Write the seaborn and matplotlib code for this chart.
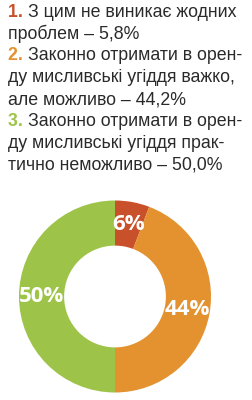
import matplotlib
matplotlib.use("Agg")
import matplotlib.pyplot as plt
import seaborn as sns
import numpy as np

categories = ["З цим не виникає жодних проблем",
              "Законно отримати в оренду мисливські угіддя важко, але можливо",
              "Законно отримати в оренду мисливські угіддя практично неможливо"]
values = [5.8, 44.2, 50.0]
slice_labels = ["6%", "44%", "50%"]
colors = ["#C8502A", "#E3922F", "#9DC449"]

legend_lines = [
    ("1.", ["З цим не виникає жодних", "проблем – 5,8%"]),
    ("2.", ["Законно отримати в орен-", "ду мисливські угіддя важко,", "але можливо – 44,2%"]),
    ("3.", ["Законно отримати в орен-", "ду мисливські угіддя прак-", "тично неможливо – 50,0%"]),
]

sns.set_theme(style="white")
plt.rcParams['font.family'] = ['Liberation Sans', 'DejaVu Sans']

W, H = 252, 400
fig = plt.figure(figsize=(W / 100, H / 100), dpi=100)
fig.patch.set_facecolor("white")

# text block
x0 = 8
base0 = 16.7
step = 21.9
fs = 12.8
txt_color = "#2a2a2a"
k = 0
for (num, lines), col in zip(legend_lines, colors):
    for j, line in enumerate(lines):
        y = 1 - (base0 + step * k) / H
        if j == 0:
            t = fig.text(x0 / W, y, num + " ", color=col, fontsize=fs,
                         fontweight="bold", va="baseline", ha="left")
            fig.canvas.draw()
            bb = t.get_window_extent()
            fig.text(bb.x1 / W, y, line, color=txt_color, fontsize=fs,
                     va="baseline", ha="left")
        else:
            fig.text(x0 / W, y, line, color=txt_color, fontsize=fs,
                     va="baseline", ha="left")
        k += 1

# donut
cx, cy, R = 115, 296.5, 96
ax = fig.add_axes([(cx - R) / W, (H - cy - R) / H, 2 * R / W, 2 * R / H])
wedges, _ = ax.pie(values, colors=colors, startangle=90, counterclock=False,
                   radius=1, wedgeprops=dict(width=0.47, linewidth=0))
theta0 = 90
cum = 0
for v, lab in zip(values, slice_labels):
    mid = theta0 - (cum + v / 2) / 100 * 360
    cum += v
    r = 0.765
    ax.text(r * np.cos(np.radians(mid)), r * np.sin(np.radians(mid)), lab,
            color="white", fontsize=16, fontweight="bold", ha="center",
            va="center", family=["Open Sans", "DejaVu Sans"])
ax.set_xlim(-1, 1)
ax.set_ylim(-1, 1)
ax.set_aspect("equal")
ax.axis("off")

fig.savefig("out.png", dpi=100, facecolor="white")
